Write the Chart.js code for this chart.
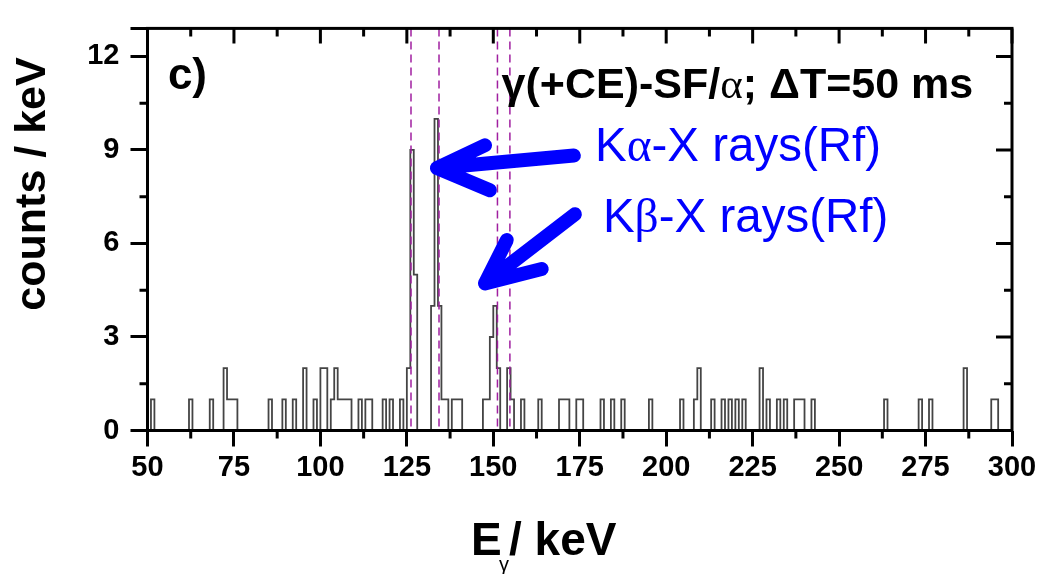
<!DOCTYPE html>
<html>
<head>
<meta charset="utf-8">
<title>gamma spectrum</title>
<script src="https://cdn.jsdelivr.net/npm/chart.js@4.4.1/dist/chart.umd.min.js"></script>
<style>
  html, body { margin: 0; padding: 0; background: #fff; }
  #chartDiv { width: 1042px; height: 574px; }
</style>
</head>
<body>
<div id="chartDiv"><canvas id="myChart" width="1042" height="574"></canvas></div>
<script>
// 1 keV bins with at least one count (lower bin edge, keV) and their counts
const binEnergy = [51, 62, 68, 72, 73, 74, 75, 85, 89, 92, 95, 98, 100, 101, 103, 104, 105, 106, 107, 108,
    111, 113, 114, 118, 120, 123, 125, 126, 127, 132, 133, 134, 135, 136, 138, 139, 140,
    147, 148, 149, 150, 151, 154, 155, 158, 163, 169, 170, 171, 174, 175, 181, 184, 187, 195,
    204, 208, 209, 213, 216, 218, 220, 222, 227, 229, 232, 234, 237, 238, 239, 242,
    263, 273, 276, 286, 294, 295];
const binCounts = [1, 1, 1, 2, 1, 1, 1, 1, 1, 1, 2, 1, 2, 2, 1, 2, 1, 1, 1, 1,
    1, 1, 1, 1, 1, 1, 2, 9, 5, 4, 10, 4, 1, 1, 1, 1, 1,
    1, 1, 3, 4, 2, 2, 1, 1, 1, 1, 1, 1, 1, 1, 1, 1, 1, 1,
    1, 1, 2, 1, 1, 1, 1, 1, 2, 1, 1, 1, 1, 1, 1, 1,
    1, 1, 1, 2, 1, 1];
const xTicks = [50, 75, 100, 125, 150, 175, 200, 225, 250, 275, 300];
const xMinor = [62.5, 87.5, 112.5, 137.5, 162.5, 187.5, 212.5, 237.5, 262.5, 287.5];
const yTicks = [0, 3, 6, 9, 12];
const yMinor = [1.5, 4.5, 7.5, 10.5];
// Rf K X-ray energies (keV)
const kxLines = [126.2, 134.3, 151.2, 154.8];

const FONT = "'Liberation Sans', Arial, sans-serif";
const SERIF = "'Liberation Serif', 'Times New Roman', serif";
const BLUE = '#0000ff';

// full step histogram 50..300 keV, empty bins at zero
const histPoints = [];
for (let e = 50; e <= 300; e++) {
    const i = binEnergy.indexOf(e);
    histPoints.push({ x: e, y: i >= 0 ? binCounts[i] : 0 });
}

function drawRuns(ctx, x, y, runs) {
    ctx.textAlign = 'left';
    ctx.textBaseline = 'alphabetic';
    for (const r of runs) {
        ctx.font = r.font;
        ctx.fillStyle = r.color || '#000';
        ctx.fillText(r.text, x, y + (r.dy || 0));
        x += ctx.measureText(r.text).width + (r.kern || 0);
    }
}

function drawArrow(ctx, xs, ys, tip, tail, barbA, barbB) {
    const p = a => [xs.getPixelForValue(a[0]), ys.getPixelForValue(a[1])];
    const t = p(tip), s = p(tail), b1 = p(barbA), b2 = p(barbB);
    ctx.beginPath();
    ctx.moveTo(s[0], s[1]);
    ctx.lineTo(t[0], t[1]);
    ctx.moveTo(b1[0], b1[1]);
    ctx.lineTo(t[0], t[1]);
    ctx.lineTo(b2[0], b2[1]);
    ctx.stroke();
}

const framePlugin = {
    id: 'frame',
    afterDraw(chart) {
        const { ctx, chartArea: a, scales: { x, y } } = chart;
        ctx.save();

        // dashed K X-ray markers
        ctx.strokeStyle = '#a01fa0';
        ctx.lineWidth = 1.5;
        ctx.setLineDash([8, 5]);
        kxLines.forEach(e => {
            const px = x.getPixelForValue(e);
            ctx.beginPath();
            ctx.moveTo(px, a.top);
            ctx.lineTo(px, a.bottom);
            ctx.stroke();
        });
        ctx.setLineDash([]);

        // box and ticks
        ctx.strokeStyle = '#000';
        ctx.lineWidth = 3;
        ctx.strokeRect(a.left, a.top, a.right - a.left, a.bottom - a.top);
        ctx.beginPath();
        xTicks.forEach(v => {
            const px = x.getPixelForValue(v);
            ctx.moveTo(px, a.top); ctx.lineTo(px, a.top + 15);
        });
        xMinor.forEach(v => {
            const px = x.getPixelForValue(v);
            ctx.moveTo(px, a.bottom); ctx.lineTo(px, a.bottom + 8);
            ctx.moveTo(px, a.top); ctx.lineTo(px, a.top + 8);
        });
        yTicks.forEach(v => {
            const py = y.getPixelForValue(v);
            ctx.moveTo(a.right, py); ctx.lineTo(a.right - 16, py);
        });
        yMinor.forEach(v => {
            const py = y.getPixelForValue(v);
            ctx.moveTo(a.left, py); ctx.lineTo(a.left - 8, py);
            ctx.moveTo(a.right, py); ctx.lineTo(a.right - 8, py);
        });
        ctx.moveTo(a.left, a.top); ctx.lineTo(a.left - 17, a.top);
        ctx.stroke();

        // panel label and header
        const bold = s => 'bold ' + s + 'px ' + FONT;
        drawRuns(ctx, x.getPixelForValue(55.9), y.getPixelForValue(10.94), [
            { text: 'c)', font: bold(44) }
        ]);
        drawRuns(ctx, x.getPixelForValue(152.4), y.getPixelForValue(10.68), [
            { text: 'γ(+CE)-SF/', font: bold(43) },
            { text: 'α', font: '43px ' + SERIF },
            { text: '; ΔT=50 ms', font: bold(43) }
        ]);

        // K X-ray labels with arrows
        drawRuns(ctx, x.getPixelForValue(179.4), y.getPixelForValue(8.63), [
            { text: 'K', font: '47.5px ' + FONT, color: BLUE },
            { text: 'α', font: '47.5px ' + SERIF, color: BLUE },
            { text: '-X rays(Rf)', font: '47.5px ' + FONT, color: BLUE }
        ]);
        drawRuns(ctx, x.getPixelForValue(181.7), y.getPixelForValue(6.38), [
            { text: 'K', font: '47.5px ' + FONT, color: BLUE },
            { text: 'β', font: '47.5px ' + SERIF, color: BLUE },
            { text: '-X rays(Rf)', font: '47.5px ' + FONT, color: BLUE }
        ]);
        ctx.strokeStyle = BLUE;
        ctx.lineWidth = 14;
        ctx.lineCap = 'round';
        ctx.lineJoin = 'round';
        drawArrow(ctx, x, y, [133.7, 8.42], [173.3, 8.82], [147.6, 9.15], [149.0, 7.71]);
        drawArrow(ctx, x, y, [147.6, 4.72], [173.6, 6.94], [153.9, 6.11], [164.0, 5.18]);

        // x axis title with subscript
        drawRuns(ctx, 471, 555, [{ text: 'E', font: bold(46) }]);
        drawRuns(ctx, 499, 571, [{ text: 'γ', font: '20px ' + FONT }]);
        drawRuns(ctx, 509, 555, [{ text: '/ keV', font: bold(46) }]);

        // y axis title
        ctx.translate(33, 184);
        ctx.rotate(-Math.PI / 2);
        ctx.font = bold(43);
        ctx.fillStyle = '#000';
        ctx.textAlign = 'center';
        ctx.textBaseline = 'middle';
        ctx.fillText('counts / keV', 0, 0);

        ctx.restore();
    }
};

const config = {
    type: 'line',
    data: {
        datasets: [{
            data: histPoints,
            stepped: true,
            borderColor: '#444',
            borderWidth: 1.8,
            pointRadius: 0,
            fill: false
        }]
    },
    options: {
        responsive: false,
        animation: false,
        devicePixelRatio: 1,
        layout: { padding: { top: 12, right: 30, bottom: 0, left: 0 } },
        plugins: { legend: { display: false }, tooltip: { enabled: false } },
        scales: {
            x: {
                type: 'linear',
                min: 50,
                max: 300,
                afterBuildTicks: s => { s.ticks = xTicks.map(v => ({ value: v })); },
                afterFit: s => { s.height = 143.5; },
                border: { display: false },
                grid: { drawOnChartArea: false, tickLength: 16, tickWidth: 3, tickColor: '#000' },
                ticks: {
                    color: '#000',
                    font: { family: FONT, size: 29, weight: 'bold' },
                    padding: 4,
                    maxRotation: 0,
                    autoSkip: false
                }
            },
            y: {
                min: 0,
                max: 12.9,
                afterBuildTicks: s => { s.ticks = yTicks.map(v => ({ value: v })); },
                afterFit: s => { s.width = 147.5; },
                border: { display: false },
                grid: { drawOnChartArea: false, tickLength: 17, tickWidth: 3, tickColor: '#000' },
                ticks: {
                    color: '#000',
                    font: { family: FONT, size: 29, weight: 'bold' },
                    padding: 11
                }
            }
        }
    },
    plugins: [framePlugin]
};

const myChart = new Chart(document.getElementById('myChart'), config);
</script>
</body>
</html>
